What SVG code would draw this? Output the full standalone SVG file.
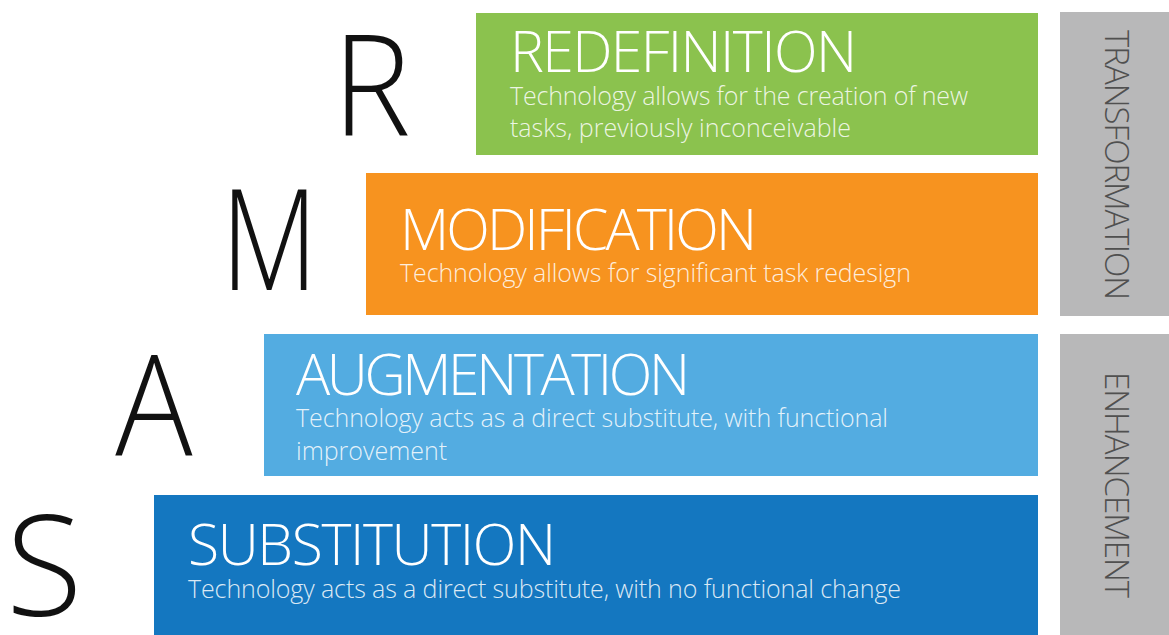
<svg xmlns="http://www.w3.org/2000/svg" width="1169" height="635" viewBox="0 0 1169 635">
<style>
.big{font-family:"Open Sans","Noto Sans",sans-serif;font-weight:300;font-size:140px;fill:#111}
.title{font-family:"Open Sans","Noto Sans",sans-serif;font-weight:300;font-size:57px;fill:#ffffff}
.sub{font-family:"Open Sans","Noto Sans",sans-serif;font-weight:300;font-size:25px;fill:#ffffff;fill-opacity:0.85}
.side{font-family:"Open Sans","Noto Sans",sans-serif;font-weight:300;font-size:33px;fill:#505050}
</style>
<rect width="1169" height="635" fill="#ffffff"/>
<g id="redefinition">
<rect x="476" y="13" width="562" height="142" fill="#8bc24e"/>
<text class="title" x="510" y="72" textLength="347">REDEFINITION</text>
<text class="sub" x="510" y="105" textLength="458">Technology allows for the creation of new</text>
<text class="sub" x="510" y="137">tasks, previously inconceivable</text>
</g>
<g id="modification">
<rect x="366" y="173" width="672" height="142" fill="#f7931f"/>
<text class="title" x="400" y="250" textLength="357">MODIFICATION</text>
<text class="sub" x="400" y="282" textLength="511">Technology allows for significant task redesign</text>
</g>
<g id="augmentation">
<rect x="264" y="334" width="774" height="142" fill="#53ace1"/>
<text class="title" x="296" y="395" textLength="394">AUGMENTATION</text>
<text class="sub" x="296" y="427" textLength="592">Technology acts as a direct substitute, with functional</text>
<text class="sub" x="296" y="460">improvement</text>
</g>
<g id="substitution">
<rect x="154" y="495" width="884" height="140" fill="#1477c0"/>
<text class="title" x="188" y="565" textLength="368">SUBSTITUTION</text>
<text class="sub" x="188" y="598" textLength="713">Technology acts as a direct substitute, with no functional change</text>
</g>
<g id="letters">
<text class="big" transform="translate(340,136) scale(0.94,1)" x="-8" y="0">R</text>
<text class="big" transform="translate(229,290) scale(0.8,1)" x="-10" y="0">M</text>
<text class="big" transform="translate(117,455) scale(0.92,1)" x="-2" y="0">A</text>
<text class="big" x="6" y="616">S</text>
</g>
<g id="transformation">
<rect x="1060" y="12" width="109" height="304" fill="#b8b8b9"/>
<text class="side" transform="translate(1105,165) rotate(90)" text-anchor="middle" textLength="270">TRANSFORMATION</text>
</g>
<g id="enhancement">
<rect x="1060" y="334" width="109" height="301" fill="#b8b8b9"/>
<text class="side" transform="translate(1105,485) rotate(90)" text-anchor="middle" textLength="226">ENHANCEMENT</text>
</g>
<g id="connectors"/>
</svg>
